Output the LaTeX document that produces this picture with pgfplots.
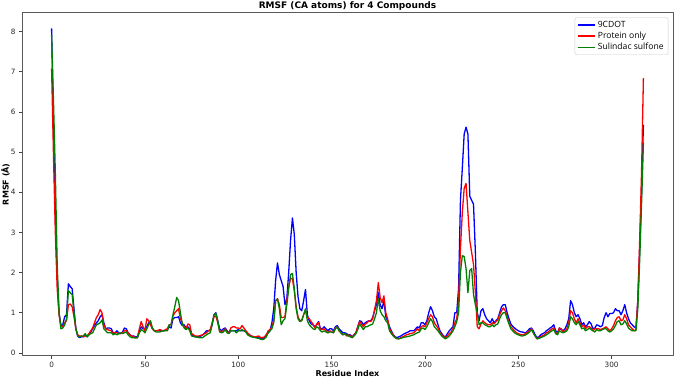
\documentclass[border=0pt]{standalone}
\usepackage{pgfplots}
\pgfplotsset{compat=1.18}
\usepackage{pgfplotstable}
\usepackage{fontspec}
\setmainfont{DejaVu Sans}
\newfontfamily\legfont{Open Sans}
\definecolor{mplgreen}{RGB}{0,128,0}
\definecolor{mplblue}{RGB}{0,0,255}
\definecolor{mplred}{RGB}{255,0,0}

\pgfplotstableread{
r B R G
0 8.08 7.08 7.92
1 5.6 4.95 6.3
2 3.5 3.0 4.5
3 1.9 1.6 2.2
4 1.0 0.95 1.0
5 0.68 0.68 0.6
6 0.7 0.65 0.62
7 0.9 0.75 0.7
8 0.95 0.8 0.85
9 1.72 1.2 1.55
10 1.65 1.22 1.5
11 1.6 1.15 1.45
12 1.1 0.9 1.0
13 0.6 0.6 0.6
14 0.42 0.45 0.42
15 0.38 0.42 0.4
16 0.4 0.42 0.42
17 0.4 0.4 0.42
18 0.45 0.42 0.48
19 0.4 0.42 0.4
20 0.45 0.48 0.45
21 0.52 0.55 0.48
22 0.6 0.62 0.5
23 0.68 0.75 0.6
24 0.75 0.88 0.7
25 0.8 0.95 0.72
26 0.9 1.08 0.75
27 0.95 1.0 0.82
28 0.75 0.7 0.6
29 0.6 0.6 0.55
30 0.62 0.58 0.5
31 0.62 0.56 0.5
32 0.6 0.55 0.5
33 0.5 0.48 0.45
34 0.5 0.5 0.48
35 0.55 0.5 0.45
36 0.5 0.48 0.48
37 0.48 0.48 0.5
38 0.52 0.5 0.48
39 0.62 0.55 0.5
40 0.6 0.55 0.52
41 0.5 0.5 0.45
42 0.45 0.45 0.4
43 0.42 0.42 0.38
44 0.42 0.4 0.38
45 0.4 0.38 0.37
46 0.4 0.38 0.38
47 0.55 0.6 0.5
48 0.65 0.78 0.58
49 0.6 0.65 0.55
50 0.6 0.55 0.5
51 0.65 0.85 0.6
52 0.75 0.8 0.7
53 0.72 0.7 0.8
54 0.6 0.6 0.62
55 0.55 0.55 0.55
56 0.55 0.55 0.52
57 0.55 0.56 0.52
58 0.55 0.58 0.52
59 0.55 0.56 0.54
60 0.55 0.55 0.55
61 0.56 0.58 0.55
62 0.58 0.6 0.55
63 0.65 0.7 0.7
64 0.62 0.7 0.7
65 0.85 0.92 0.95
66 0.88 1.0 1.15
67 0.88 1.05 1.38
68 0.9 1.1 1.3
69 0.75 0.85 1.0
70 0.68 0.75 0.72
71 0.7 0.65 0.62
72 0.62 0.6 0.58
73 0.65 0.72 0.62
74 0.6 0.7 0.55
75 0.45 0.48 0.42
76 0.42 0.45 0.41
77 0.4 0.42 0.4
78 0.4 0.42 0.39
79 0.4 0.42 0.38
80 0.42 0.44 0.38
81 0.45 0.45 0.38
82 0.5 0.48 0.42
83 0.55 0.5 0.45
84 0.55 0.55 0.48
85 0.55 0.58 0.5
86 0.7 0.75 0.72
87 0.95 0.9 0.95
88 1.0 0.92 0.98
89 0.8 0.75 0.8
90 0.6 0.55 0.52
91 0.55 0.52 0.5
92 0.6 0.55 0.52
93 0.62 0.6 0.58
94 0.55 0.52 0.5
95 0.5 0.5 0.48
96 0.55 0.62 0.55
97 0.55 0.65 0.55
98 0.55 0.65 0.55
99 0.55 0.62 0.5
100 0.58 0.62 0.55
101 0.55 0.6 0.55
102 0.55 0.68 0.58
103 0.55 0.62 0.55
104 0.55 0.55 0.52
105 0.48 0.5 0.45
106 0.45 0.45 0.42
107 0.42 0.42 0.4
108 0.4 0.41 0.39
109 0.4 0.4 0.38
110 0.39 0.41 0.37
111 0.38 0.42 0.36
112 0.35 0.38 0.34
113 0.35 0.38 0.33
114 0.38 0.4 0.35
115 0.45 0.45 0.4
116 0.5 0.55 0.5
117 0.55 0.58 0.55
118 0.75 0.65 0.6
119 1.1 0.8 0.75
120 1.8 1.3 1.3
121 2.24 1.35 1.34
122 1.95 1.2 1.1
123 1.8 0.88 0.7
124 1.65 0.88 0.8
125 1.2 0.9 0.85
126 1.35 1.3 1.2
127 2.0 1.65 1.6
128 2.8 1.85 1.95
129 3.36 1.85 1.98
130 2.95 1.55 1.6
131 2.0 1.15 1.1
132 1.4 0.9 0.85
133 1.1 0.8 0.78
134 1.05 0.82 0.8
135 1.3 0.95 0.95
136 1.58 1.05 1.1
137 0.95 0.9 0.8
138 0.8 0.85 0.7
139 0.72 0.78 0.65
140 0.7 0.72 0.6
141 0.65 0.62 0.58
142 0.7 0.72 0.65
143 0.78 0.75 0.62
144 0.6 0.58 0.55
145 0.6 0.58 0.52
146 0.65 0.6 0.55
147 0.6 0.55 0.52
148 0.55 0.5 0.5
149 0.6 0.55 0.52
150 0.6 0.53 0.52
151 0.55 0.5 0.5
152 0.65 0.62 0.6
153 0.68 0.65 0.65
154 0.6 0.55 0.55
155 0.55 0.5 0.5
156 0.5 0.45 0.45
157 0.5 0.48 0.48
158 0.48 0.42 0.45
159 0.45 0.45 0.42
160 0.45 0.42 0.4
161 0.4 0.38 0.38
162 0.45 0.45 0.42
163 0.5 0.5 0.48
164 0.65 0.65 0.58
165 0.8 0.78 0.72
166 0.78 0.72 0.65
167 0.7 0.65 0.58
168 0.75 0.72 0.65
169 0.78 0.75 0.65
170 0.8 0.8 0.68
171 0.8 0.78 0.7
172 0.88 0.85 0.72
173 1.05 1.08 0.85
174 1.2 1.3 1.0
175 1.5 1.75 1.35
176 1.2 1.38 1.05
177 1.1 1.25 0.95
178 1.3 1.42 0.9
179 0.9 1.0 0.8
180 0.8 0.85 0.75
181 0.65 0.6 0.55
182 0.55 0.52 0.48
183 0.45 0.45 0.42
184 0.4 0.38 0.38
185 0.38 0.35 0.36
186 0.4 0.35 0.35
187 0.42 0.38 0.36
188 0.45 0.4 0.38
189 0.48 0.42 0.39
190 0.5 0.45 0.4
191 0.52 0.46 0.41
192 0.55 0.48 0.42
193 0.55 0.49 0.44
194 0.55 0.5 0.45
195 0.6 0.55 0.48
196 0.65 0.6 0.5
197 0.62 0.55 0.52
198 0.75 0.65 0.6
199 0.75 0.68 0.62
200 0.7 0.65 0.58
201 0.8 0.75 0.65
202 1.0 0.85 0.75
203 1.15 0.95 0.85
204 1.05 0.9 0.78
205 0.9 0.75 0.65
206 0.85 0.68 0.6
207 0.7 0.62 0.55
208 0.55 0.5 0.48
209 0.48 0.45 0.42
210 0.42 0.4 0.38
211 0.4 0.38 0.35
212 0.48 0.42 0.38
213 0.55 0.48 0.42
214 0.6 0.52 0.48
215 0.65 0.6 0.55
216 1.0 0.75 0.65
217 1.0 0.85 0.78
218 1.6 1.3 1.0
219 3.8 2.6 2.0
220 4.6 3.5 2.42
221 5.45 4.1 2.4
222 5.62 4.22 2.1
223 5.45 3.5 1.5
224 3.9 2.8 2.05
225 3.8 2.5 2.1
226 3.7 2.2 1.45
227 2.5 1.5 1.2
228 1.0 0.65 1.0
229 0.8 0.6 0.7
230 1.05 0.72 0.75
231 1.1 0.8 0.75
232 0.95 0.75 0.7
233 0.85 0.72 0.68
234 0.8 0.7 0.65
235 0.75 0.7 0.65
236 0.85 0.75 0.7
237 0.75 0.72 0.65
238 0.8 0.78 0.7
239 0.85 0.82 0.72
240 1.0 0.95 0.85
241 1.15 1.05 0.95
242 1.2 1.12 1.0
243 1.2 1.05 1.0
244 1.0 0.9 0.85
245 0.85 0.75 0.72
246 0.72 0.65 0.6
247 0.66 0.6 0.55
248 0.62 0.55 0.5
249 0.58 0.5 0.47
250 0.55 0.48 0.45
251 0.53 0.46 0.43
252 0.52 0.45 0.42
253 0.51 0.46 0.43
254 0.5 0.48 0.45
255 0.55 0.52 0.48
256 0.6 0.55 0.52
257 0.62 0.6 0.58
258 0.55 0.5 0.5
259 0.45 0.42 0.42
260 0.38 0.35 0.35
261 0.4 0.37 0.36
262 0.45 0.4 0.38
263 0.48 0.43 0.4
264 0.5 0.45 0.42
265 0.55 0.5 0.45
266 0.58 0.52 0.48
267 0.62 0.56 0.52
268 0.65 0.6 0.55
269 0.7 0.62 0.58
270 0.55 0.5 0.48
271 0.5 0.48 0.45
272 0.62 0.62 0.55
273 0.58 0.6 0.52
274 0.55 0.52 0.5
275 0.6 0.55 0.52
276 0.7 0.6 0.55
277 0.85 0.75 0.65
278 1.3 1.05 0.9
279 1.2 1.0 0.85
280 1.0 0.85 0.75
281 0.9 0.75 0.7
282 0.95 0.85 0.78
283 0.85 0.75 0.7
284 0.7 0.65 0.6
285 0.75 0.7 0.62
286 0.65 0.6 0.55
287 0.7 0.65 0.58
288 0.78 0.65 0.62
289 0.72 0.62 0.58
290 0.6 0.55 0.55
291 0.62 0.6 0.52
292 0.7 0.6 0.58
293 0.68 0.6 0.55
294 0.65 0.58 0.55
295 0.68 0.6 0.58
296 0.88 0.62 0.6
297 1.0 0.65 0.6
298 0.9 0.6 0.55
299 0.98 0.55 0.52
300 0.98 0.6 0.55
301 1.0 0.68 0.6
302 1.1 0.8 0.68
303 1.05 0.88 0.78
304 1.05 0.9 0.8
305 0.95 0.8 0.7
306 1.05 0.82 0.72
307 1.2 0.95 0.8
308 1.0 0.85 0.72
309 0.85 0.7 0.62
310 0.75 0.65 0.58
311 0.7 0.6 0.55
312 0.65 0.55 0.55
313 0.62 0.58 0.55
314 1.3 1.3 1.1
315 2.6 2.8 2.3
316 4.0 4.5 3.7
317 5.68 6.84 5.22
}\rmsf

\begin{document}
\begin{tikzpicture}
\begin{axis}[
  scale only axis, width=651pt, height=343pt,
  at={(0pt,0pt)}, anchor=south west,
  xmin=-15.85, xmax=332.85, ymin=-0.07, ymax=8.47,
  xtick={0,50,100,150,200,250,300}, ytick={0,1,2,3,4,5,6,7,8},
  tick align=outside, tick pos=left, major tick length=3pt,
  tick style={black!75, line width=0.6pt},
  axis line style={black!65, line width=0.8pt},
  ticklabel style={font=\fontsize{7.3}{8}\selectfont, text=black!85},
  /pgf/number format/assume math mode=true,
  xlabel={\bfseries Residue Index},
  ylabel={\bfseries RMSF (Å)},
  xlabel style={font=\fontsize{8}{9}\selectfont, at={(axis description cs:0.5,-0.0513)}, anchor=center},
  ylabel style={font=\fontsize{8}{9}\selectfont, at={(axis description cs:-0.0253,0.5)}, anchor=center},
  legend style={at={(1,1)}, anchor=north east, xshift=-4.7pt, yshift=-4.6pt,
    draw=black!20, fill=white, rounded corners=2pt,
    font=\legfont\fontsize{8.6}{10}\selectfont, inner xsep=2.5pt, inner ysep=1.5pt,
    row sep=-0.8pt},
  legend cell align=left,
  legend image code/.code={\draw[#1, line width=1.4pt, sharp corners] (0pt,0pt) -- (17pt,0pt);},
  line join=round,
]
\addplot[mplblue, line width=1.3pt] table[x=r, y=B] {\rmsf};
\addlegendentry{9CDOT}
\addplot[mplred, line width=1.3pt] table[x=r, y=R] {\rmsf};
\addlegendentry{Protein only}
\addplot[mplgreen, line width=1.3pt] table[x=r, y=G] {\rmsf};
\addlegendentry{Sulindac sulfone}
\end{axis}
\node[anchor=base, inner sep=0pt, font=\fontsize{9}{10}\selectfont\bfseries] at (325.5pt,347.6pt) {RMSF (CA atoms) for 4 Compounds};
\pgfresetboundingbox
\path[use as bounding box] (-22pt,-22.3pt) rectangle (653pt,355.7pt);
\end{tikzpicture}
\end{document}
